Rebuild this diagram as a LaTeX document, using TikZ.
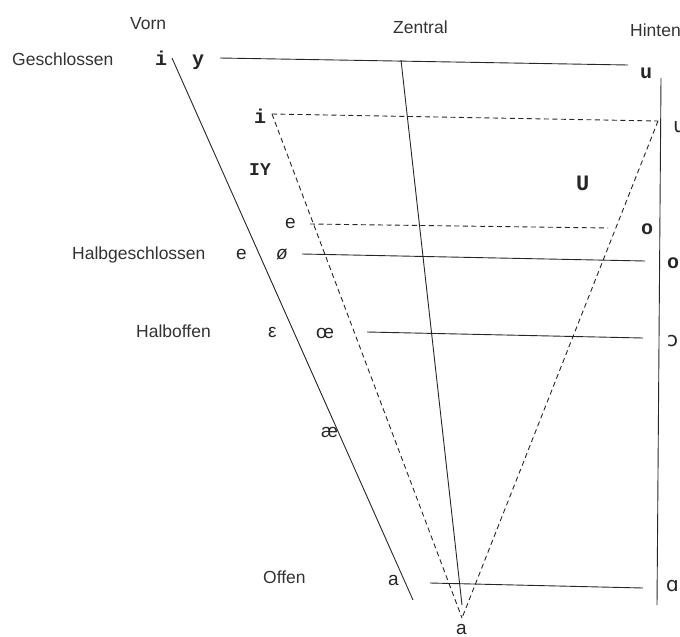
\documentclass[tikz,border=0pt]{standalone}
\usepackage{fontspec}
\setmainfont{Liberation Sans}
\newfontfamily\monof{Liberation Mono}
\newfontfamily\ipaf{DejaVu Sans}
\begin{document}
\begin{tikzpicture}[x=1pt,y=-1pt,
  lab/.style={inner sep=0, anchor=base west, font=\fontsize{17.5}{20}\selectfont, text=black!80},
  mono/.style={inner sep=0, anchor=base west, font=\monof\bfseries\fontsize{20}{22}\selectfont, text=black!85},
  sym/.style={inner sep=0, anchor=base west, font=\fontsize{19}{20}\selectfont, text=black!85},
  ipa/.style={inner sep=0, anchor=base west, font=\ipaf\fontsize{20}{22}\selectfont, text=black!85},
  ln/.style={line width=0.9pt, draw=black!85},
  dl/.style={line width=0.9pt, draw=black!85, dash pattern=on 5pt off 3.5pt}]
\useasboundingbox (0,0) rectangle (680,637);
% column / row labels
\node[lab] (vorn) at (130,29) {Vorn};
\node[lab] (zentral) at (393,33) {Zentral};
\node[lab] (hinten) at (630,36) {Hinten};
\node[lab] (gesch) at (12,65) {Geschlossen};
\node[lab] (halbg) at (72,259) {Halbgeschlossen};
\node[lab] (halbo) at (136,337) {Halboffen};
\node[lab] (offen) at (263,583) {Offen};
% vowel symbols
\node[mono] (vi) at (155,65) {i};
\node[mono] (vy) at (192,65) {y};
\node[mono] (vu) at (640,78) {u};
\node[ipa] (vw) at (673,132) {ɯ};
\node[mono] (vii) at (254,123) {i};
\node[mono,font=\monof\bfseries\fontsize{18}{20}\selectfont] (vIY) at (249,175) {IY};
\node[mono,font=\monof\bfseries\fontsize{22}{24}\selectfont] (vU) at (576,190) {U};
\node[sym] (vee) at (285,228) {e};
\node[mono] (voo) at (641,234) {o};
\node[sym] (ve) at (236,259) {e};
\node[sym,font=\itshape\fontsize{19}{20}\selectfont] (voe) at (276,259) {ø};
\node[mono] (vo) at (667,268) {o};
\node[sym] (veps) at (268,337) {ε};
\node[sym] (vOE) at (316,338) {œ};
\node[ipa] (vopo) at (667,346) {ɔ};
\node[sym] (vae) at (321,437) {æ};
\node[sym] (va) at (388,585) {a};
\node[sym] (vac) at (456,634) {a};
\node[ipa] (valpha) at (666,591) {ɑ};
% coordinates
\coordinate (slT) at (172,58);
\coordinate (slB) at (413,600);
\coordinate (cT) at (401,60);
\coordinate (cB) at (462,605);
\coordinate (rT) at (661,78);
\coordinate (rB) at (657,605);
\coordinate (tL) at (272,114);
\coordinate (tR) at (658,121);
\coordinate (apex) at (462,618);
\coordinate (g1) at (220,58);
\coordinate (g2) at (628,65);
\coordinate (hg1) at (302,254);
\coordinate (hg2) at (645,261);
\coordinate (ho1) at (367,332);
\coordinate (ho2) at (643,338);
\coordinate (of1) at (430,583);
\coordinate (of2) at (643,588);
\coordinate (md1) at (310,224);
\coordinate (md2) at (608,228);
% solid lines
\draw[ln] (slT) -- (slB);
\draw[ln] (cT) -- (cB);
\draw[ln] (rT) -- (rB);
\draw[ln] (g1) -- (g2);
\draw[ln] (hg1) -- (hg2);
\draw[ln] (ho1) -- (ho2);
\draw[ln] (of1) -- (of2);
% dashed triangle
\draw[dl] (tL) -- (tR);
\draw[dl] (tL) -- (apex);
\draw[dl] (tR) -- (apex);
\draw[dl] (md1) -- (md2);
\end{tikzpicture}
\end{document}
